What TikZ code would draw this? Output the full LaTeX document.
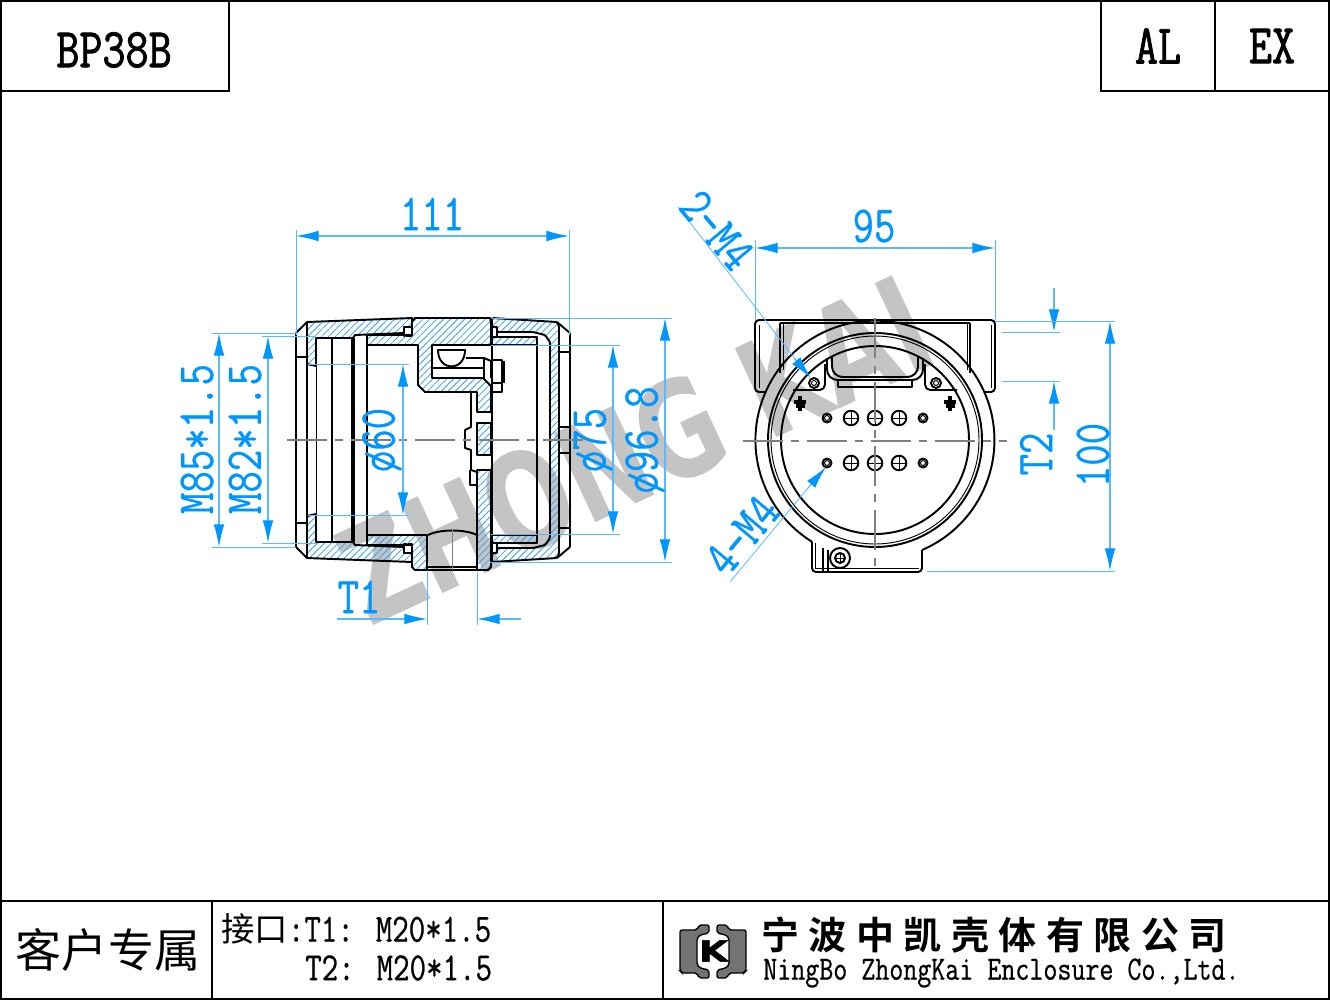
\documentclass[tikz,border=0pt]{standalone}
\usepackage{fontspec}
\setmainfont[FakeStretch=0.8,FakeBold=0.6]{Latin Modern Mono}
\newfontfamily\titlefont[FakeStretch=0.8,FakeBold=1.4]{Latin Modern Mono}
\newfontfamily\cjk{Noto Sans CJK SC}
\newfontfamily\cjkhead[LetterSpace=25]{Noto Sans CJK SC Bold}
\newfontfamily\markfont[FakeStretch=0.74]{DejaVu Sans Bold}
\newfontfamily\logofont[FakeStretch=1.3,FakeBold=1.5]{DejaVu Sans Bold}
\usetikzlibrary{arrows.meta,patterns.meta}
\definecolor{dimblue}{RGB}{0,150,255}
\definecolor{extblue}{RGB}{90,185,255}
\definecolor{hatchblue}{RGB}{50,160,245}
\tikzset{
  part/.style={draw=black,line width=1.45pt,line join=round},
  fine/.style={draw=black,line width=.7pt},
  cutface/.style={part,pattern={Lines[angle=45,distance=3.7pt,line width=.6pt]},pattern color=hatchblue},
  axis/.style={draw=gray,line width=.8pt,dash pattern=on 30pt off 6pt on 6pt off 6pt},
  dimline/.style={draw=extblue,line width=.9pt},
  extline/.style={draw=extblue,line width=.6pt},
  dimtext/.style={text=dimblue,inner sep=0,font=\fontsize{39}{39}\selectfont},
  frameline/.style={draw=black,line width=1.5pt},
}
\begin{document}
\begin{tikzpicture}[x=.75pt,y=-.75pt,>={Latex[length=17pt,width=8pt,color=dimblue]}]
\useasboundingbox (0,0) rectangle (1330,1000);
% watermark
\node[text=black!23,inner sep=0,rotate=25,font=\markfont\fontsize{101}{101}\selectfont] (mark) at (635,450) {ZHONG KAI};
% frame
\draw[frameline] (1,1) rectangle (1329,999);
\draw[frameline] (229,0) -- (229,91) -- (0,91);
\draw[frameline] (1101,0) -- (1101,91) -- (1330,91) (1215,0) -- (1215,91);
\draw[frameline] (0,901) -- (1330,901) (212,901) -- (212,1000) (663,901) -- (663,1000);
\node[inner sep=0,font=\titlefont\fontsize{42}{42}\selectfont] (model) at (114,50) {BP38B};
\node[inner sep=0,font=\titlefont\fontsize{42}{42}\selectfont] (al) at (1158,46) {AL};
\node[inner sep=0,font=\titlefont\fontsize{42}{42}\selectfont] (ex) at (1272,46) {EX};
\node[inner sep=0,font=\cjk\fontsize{34.5}{34.5}\selectfont] (client) at (108,950) {客户专属};
\node[inner sep=0,anchor=west,font=\fontsize{30}{30}\selectfont] (portone) at (221,929) {{\cjk\fontsize{25}{25}\selectfont 接口}:T1: M20*1.5};
\node[inner sep=0,anchor=west,font=\fontsize{30}{30}\selectfont] (porttwo) at (305,968) {T2: M20*1.5};
\node[inner sep=0,anchor=west,font=\cjkhead\fontsize{28.5}{28.5}\selectfont] (firm) at (761,935) {宁波中凯壳体有限公司};
\node[inner sep=0,anchor=west,font=\fontsize{25.5}{25.5}\selectfont] (firmen) at (763,973) {NingBo ZhongKai Enclosure Co.,Ltd.};
% logo
\foreach \f/\s in {0/1,1426/-1}{
  \begin{scope}[shift={(\f,0)},xscale=\s]
    \draw[line width=1pt,fill=black!55,rounded corners=1.5pt] (680,930) -- (697,930) -- (699,925) -- (709,925) -- (709,933) -- (700,935) -- (697,938) -- (697,965) -- (700,968) -- (709,970) -- (709,978) -- (699,978) -- (697,973) -- (682,973) -- (680,971) -- cycle;
  \end{scope}
}
\node[inner sep=0,font=\logofont\fontsize{22}{22}\selectfont] (logok) at (713.5,951) {K};
% side view, halves
\foreach \f/\s in {0/1,880/-1}{
  \begin{scope}[shift={(0,\f)},yscale=\s]
    \draw[cutface] (307,322) -- (412,318) -- (412,327) -- (404,327) -- (404,333) -- (355,335) -- (353,338) -- (316,338) -- (316,366) -- (307,364) -- cycle;
    \draw[part,fill=white] (404,327) rectangle (412,336);
    \draw[part] (296,333) -- (307,322);
    \draw[part] (296,357) -- (307,357);
    \draw[cutface] (492,337) -- (537,337) -- (537,345) -- (492,345) -- cycle;
    \draw[part,fill=white] (492,327) rectangle (497,337);
    \draw[part] (557,322) -- (570,333);
    \foreach \y in {352,427}
      \draw[part] (559,\y) -- (570,\y);
  \end{scope}
}
\draw[cutface,rounded corners=1pt] (492,318) -- (557,322) -- (559,326) -- (559,554) -- (557,558) -- (492,562) -- (492,553) -- (497,553) -- (497,548) -- (533,548) -- (545,545) -- (550,538) -- (550,342) -- (545,335) -- (533,332) -- (497,332) -- (497,327) -- (492,327) -- cycle;
\draw[cutface] (367,345) -- (367,335) -- (412,335) -- (412,322) -- (415,318) -- (490,318) -- (491,323) -- (491,345) -- (432,345) -- (432,378) -- (483,378) -- (491,386) -- (491,412) -- (477,412) -- (477,392) -- (425,392) -- (418,385) -- (418,345) -- cycle;
\draw[cutface] (477,423) -- (491,423) -- (491,455) -- (477,455) -- cycle;
\draw[cutface] (477,470) -- (491,470) -- (491,567) -- (488,570) -- (477,570) -- cycle;
\draw[cutface] (367,535) -- (427,535) -- (427,570) -- (415,570) -- (412,567) -- (412,545) -- (367,545) -- cycle;
\draw[part] (296,333) -- (296,547);
\draw[part] (570,333) -- (570,547);
\draw[part] (307,322) -- (307,558);
\draw[fine] (316,338) -- (316,542);
\draw[part] (332,338) -- (332,542);
\draw[part,line width=2.4pt] (353,338) -- (353,542);
\draw[part] (367,335) -- (367,545);
\draw[part] (537,337) -- (537,543);
\draw[part] (492,318) -- (492,562);
\draw[part] (559,326) -- (559,554);
% lug inside the body
\draw[part] (438,350) .. controls (438,372) and (465,372) .. (465,350) -- cycle;
\draw[part] (466,358) -- (484,358) -- (491,361) -- (491,378);
\draw[part] (432,368) -- (484,368) (484,358) -- (484,378);
\draw[part] (492,360) -- (502,360) -- (502,392) -- (492,392) (492,383) -- (502,383);
\draw[part,line width=2pt] (504,361) -- (504,383);
\draw[part] (471,393) -- (471,427) -- (465,430) -- (465,448) -- (471,450) -- (471,470) -- (477,472) -- (477,485) -- (470,485) -- (470,470);
% T1 port
\draw[part] (428,535) .. controls (440,529) and (465,529) .. (477,535);
\draw[part] (427,567) -- (477,567) (427,570) -- (477,570);
\draw[fine,draw=gray] (452,530) -- (452,570);
\draw[axis] (287,440) -- (590,440);
% end view
\foreach \f/\s in {0/1,1750/-1}{
  \begin{scope}[shift={(\f,0)},xscale=\s]
    \draw[part,rounded corners=3pt] (875,320) -- (755,320) -- (755,392) -- (766,392);
    \draw[fine] (759,325) -- (759,388);
    \draw[part] (780,323) -- (780,373);
    \draw[fine] (783,323) -- (783,370);
    \draw[part] (780,323) -- (875,323);
    \draw[part,rounded corners=4pt] (793,390) -- (825,390) -- (825,364);
    \draw[part] (814,383) circle (5);
    \draw[fine] (814,383) circle (2.5);
    \draw[part,rounded corners=8pt] (827,358) -- (827,380) -- (875,380);
    \draw[part,rounded corners=8pt] (832,356) -- (832,377) -- (875,377);
    \draw[part] (838,380) -- (838,387) -- (875,387);
    \draw[part,line width=2.6pt] (800,396) -- (800,411) (794,402) -- (806,402) (795.5,406) -- (804.5,406);
    \foreach \y in {418,463}{
      \draw[part] (827,\y) circle (4.5);
      \draw[fine] (827,\y) circle (2.5);
      \draw[part] (851,\y) circle (7.3);
      \draw[fine] (844,\y) -- (858,\y) (851,\y-7) -- (851,\y+7);
    }
  \end{scope}
}
\foreach \y in {418,463}{
  \draw[part] (875,\y) circle (7.3);
  \draw[fine] (868,\y) -- (882,\y) (875,\y-7) -- (875,\y+7);
}
\draw[part] (922,550) arc[start angle=66.8,end angle=-238.2,radius=119.5];
\draw[part,rounded corners=3pt] (812,541.5) -- (812,572) -- (922,572) -- (922,550);
\draw[fine] (815,543) -- (815,568) -- (919,568);
\draw[part] (823,548) -- (823,571) (828,550) -- (828,571);
\draw[part] (875,440) circle (107);
\draw[fine] (875,440) circle (104);
\draw[part] (875,440) circle (94);
\draw[part] (840,558) circle (10);
\draw[part] (840,558) circle (5);
\draw[fine] (835,558) -- (845,558) (840,553) -- (840,563);
\draw[axis] (743,441) -- (1007,441);
\draw[axis] (875,318) -- (875,572);
% dimensions, side view
\draw[extline] (296,230) -- (296,335) (569,230) -- (569,335);
\draw[dimline,<->] (296,236) -- (569,236);
\node[dimtext] (len) at (432,214) {111};
\draw[extline] (212,333) -- (296,333) (212,547) -- (296,547);
\draw[dimline,<->] (219,333) -- (219,547);
\node[dimtext,rotate=90] (mout) at (197,439) {M85*1.5};
\draw[extline] (262,336) -- (316,336) (262,543) -- (316,543);
\draw[dimline,<->] (268,336) -- (268,543);
\node[dimtext,rotate=90] (minn) at (245,439) {M82*1.5};
\draw[extline] (308,364) -- (409,364) (308,515) -- (409,515);
\draw[dimline,<->] (403,364) -- (403,515);
\node[dimtext,rotate=90] (bore) at (382,440) {ø60};
\draw[extline] (491,345) -- (620,345) (491,534) -- (620,534);
\draw[dimline,<->] (613,345) -- (613,534);
\node[dimtext,rotate=90] (boss) at (593,440) {ø75};
\draw[extline] (492,318) -- (672,318) (490,562) -- (672,562);
\draw[dimline,<->] (665,318) -- (665,562);
\node[dimtext,rotate=90] (dia) at (645,440) {ø96.8};
\draw[extline] (427,572) -- (427,625) (477,572) -- (477,625);
\draw[dimline,->] (337,619) -- (427,619);
\draw[dimline,->] (521,619) -- (477,619);
\node[dimtext] (tone) at (359,597) {T1};
% dimensions, end view
\draw[extline] (755,240) -- (755,320) (995,240) -- (995,320);
\draw[dimline,<->] (755,248) -- (995,248);
\node[dimtext] (wid) at (874,226) {95};
\draw[extline] (678,207) -- (796,360);
\draw[dimline,->] (794,358) -- (811,378);
\node[dimtext,rotate=-50] (holestop) at (717,230) {2-M4};
\draw[extline] (730,582) -- (808,488);
\draw[dimline,->] (808,488) -- (826,467);
\node[dimtext,rotate=50] (holesbot) at (742,535) {4-M4};
\draw[extline] (1002,332) -- (1060,332) (1002,381) -- (1060,381);
\draw[dimline,->] (1054,288) -- (1054,332);
\draw[dimline,->] (1054,430) -- (1054,381);
\node[dimtext,rotate=90] (ttwo) at (1036,454) {T2};
\draw[extline] (995,321) -- (1115,321) (927,571) -- (1115,571);
\draw[dimline,<->] (1110,321) -- (1110,571);
\node[dimtext,rotate=90] (hgt) at (1093,455) {100};
\end{tikzpicture}
\end{document}
